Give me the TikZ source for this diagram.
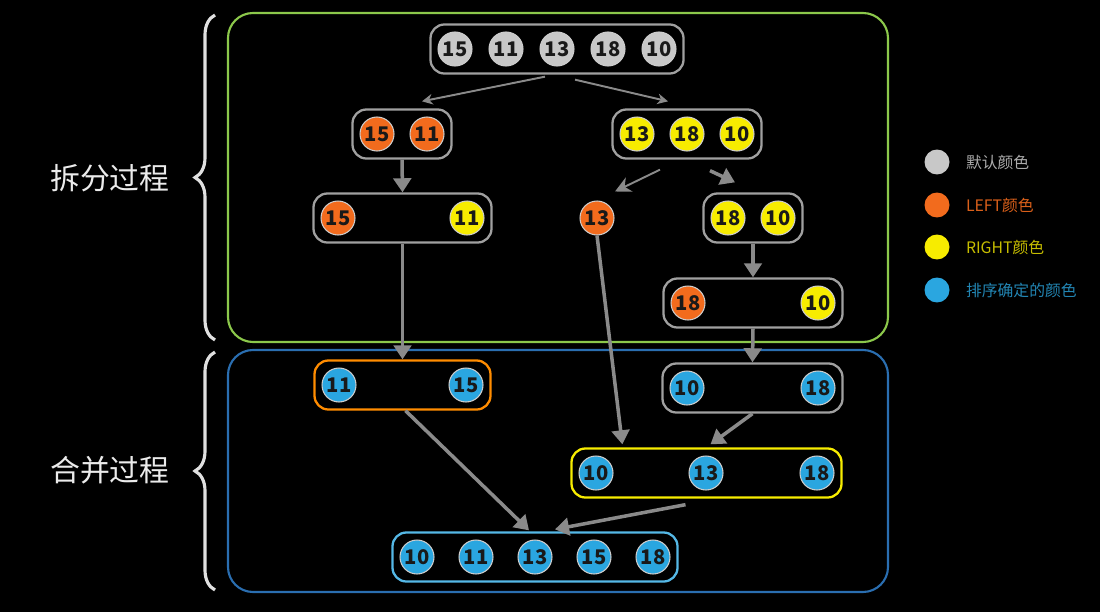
\documentclass[tikz,border=0pt]{standalone}
\usepackage{fontspec}
\setmainfont{Noto Sans CJK SC}
\usetikzlibrary{arrows.meta,fit,positioning,decorations.pathreplacing}

\definecolor{cgray}{HTML}{C8C8C8}
\definecolor{corange}{HTML}{F26B1D}
\definecolor{cyellow}{HTML}{F7EC00}
\definecolor{cblue}{HTML}{2AA6E0}
\definecolor{cline}{HTML}{8A8A8A}
\definecolor{cframe}{HTML}{A0A0A0}
\definecolor{cgreen}{HTML}{8CC84B}
\definecolor{cdeep}{HTML}{2A6EB0}

\tikzset{
  ball/.style={circle, minimum size=0.68cm, inner sep=0pt, draw=white!80!black,
    line width=0.6pt, text=black!90, font=\fontsize{11.5}{12}\selectfont\bfseries},
  gball/.style={ball, fill=cgray},
  oball/.style={ball, fill=corange},
  yball/.style={ball, fill=cyellow},
  bball/.style={ball, fill=cblue},
  box/.style={draw=cframe, line width=1.3pt, rounded corners=0.28cm, inner sep=0.14cm},
  lnk/.style={draw=cline, line width=1.1pt, -{Stealth[length=6pt,width=6pt]}},
  lnkbold/.style={draw=cline, line width=2pt, -{Triangle[length=8pt,width=10pt]}},
  dot/.style={circle, minimum size=0.5cm, inner sep=0pt},
  key/.style={anchor=west, font=\fontsize{9}{11}\selectfont},
}

\begin{document}
\begin{tikzpicture}[x=0.02cm, y=-0.02cm]
    \useasboundingbox (0,0) rectangle (1100,612);
    \fill[black] (0,0) rectangle (1100,612);

    \draw[cgreen, line width=1.2pt, rounded corners=0.5cm] (228,13) rectangle (888,342);
    \draw[cdeep, line width=1.2pt, rounded corners=0.5cm] (228,350) rectangle (888,592);

    \draw[white!88!black, line width=1.8pt, decorate, decoration={brace, amplitude=0.4cm}]
        (215,340) -- (215,15);
    \draw[white!88!black, line width=1.8pt, decorate, decoration={brace, amplitude=0.4cm}]
        (215,590) -- (215,352);
    \node[text=white!92!black, font=\fontsize{17}{20}\selectfont] (split) at (110,178) {拆分过程};
    \node[text=white!92!black, font=\fontsize{17}{20}\selectfont] (merge) at (110,470) {合并过程};

    \foreach \v [count=\i] in {15,11,13,18,10}
        \node[gball] (t\i) at ({404+51*\i},49) {\v};
    \node[box, fit=(t1)(t5)] (top) {};

    \node[oball] (l1) at (377,134) {15};
    \node[oball] (l2) at (427,134) {11};
    \node[box, fit=(l1)(l2)] (b2) {};

    \foreach \v [count=\i] in {13,18,10}
        \node[yball] (r\i) at ({587+50*\i},134) {\v};
    \node[box, fit=(r1)(r3)] (b3) {};

    \node[oball] (p1) at (338,218) {15};
    \node[yball] (p2) at (467,218) {11};
    \node[box, fit=(p1)(p2)] (b4) {};

    \node[oball] (n13) at (597,218) {13};

    \node[yball] (q1) at (728,218) {18};
    \node[yball] (q2) at (778,218) {10};
    \node[box, fit=(q1)(q2)] (b5) {};

    \node[oball] (s1) at (688,303) {18};
    \node[yball] (s2) at (818,303) {10};
    \node[box, fit=(s1)(s2)] (b6) {};

    \node[bball] (m1) at (339,385) {11};
    \node[bball] (m2) at (466,385) {15};
    \node[box, draw=orange!90!yellow, fit=(m1)(m2)] (b7) {};

    \node[bball] (k1) at (687,388) {10};
    \node[bball] (k2) at (818,388) {18};
    \node[box, fit=(k1)(k2)] (b8) {};

    \node[bball] (h1) at (596,473) {10};
    \node[bball] (h2) at (706,473) {13};
    \node[bball] (h3) at (817,473) {18};
    \node[box, draw=cyellow, fit=(h1)(h3)] (b9) {};

    \foreach \v [count=\i] in {10,11,13,15,18}
        \node[bball] (f\i) at ({358+59*\i},557) {\v};
    \node[box, draw=cblue!80!white, fit=(f1)(f5)] (b10) {};

    \draw[lnk] ([shift={(-12,2)}]top.south) -- ([shift={(20,-7)}]b2.north);
    \draw[lnk] ([shift={(18,5)}]top.south) -- ([shift={(-19,-7)}]b3.north);
    \draw[lnkbold] (b2.south) -- (b4.north);
    \draw[lnk, -{Stealth[length=9pt,width=9pt]}] ([shift={(-27,10)}]b3.south) -- ([shift={(18,-9)}]n13.north);
    \draw[lnkbold] ([shift={(23,11)}]b3.south) -- ([shift={(-18,-10)}]b5.north);
    \draw[lnkbold] (b4.south) -- (b7.north);
    \draw[lnkbold] (b5.south) -- (b6.north);
    \draw[lnkbold] (b6.south) -- (b8.north);
    \draw[lnkbold] (n13.south) -- ([shift={(52,-3)}]b9.north west);
    \draw[lnkbold] (b8.south) -- ([shift={(4,-3)}]b9.north);
    \draw[lnkbold] ([shift={(3,0)}]b7.south) -- ([shift={(-6,-1)}]b10.north);
    \draw[lnkbold] ([shift={(-21,6)}]b9.south) -- ([shift={(20,-2)}]b10.north);

    \node[dot, fill=cgray] (d1) at (937,162) {};
    \node[dot, fill=corange] (d2) at (937,205) {};
    \node[dot, fill=cyellow] (d3) at (937,247) {};
    \node[dot, fill=cblue] (d4) at (937,290) {};
    \node[key, text=cgray!85!black, right=0.2cm of d1] (e1) {默认颜色};
    \node[key, text=corange!90!black, right=0.2cm of d2] (e2) {LEFT颜色};
    \node[key, text=cyellow!80!black, right=0.2cm of d3] (e3) {RIGHT颜色};
    \node[key, text=cblue!80!black, right=0.2cm of d4] (e4) {排序确定的颜色};
\end{tikzpicture}
\end{document}
